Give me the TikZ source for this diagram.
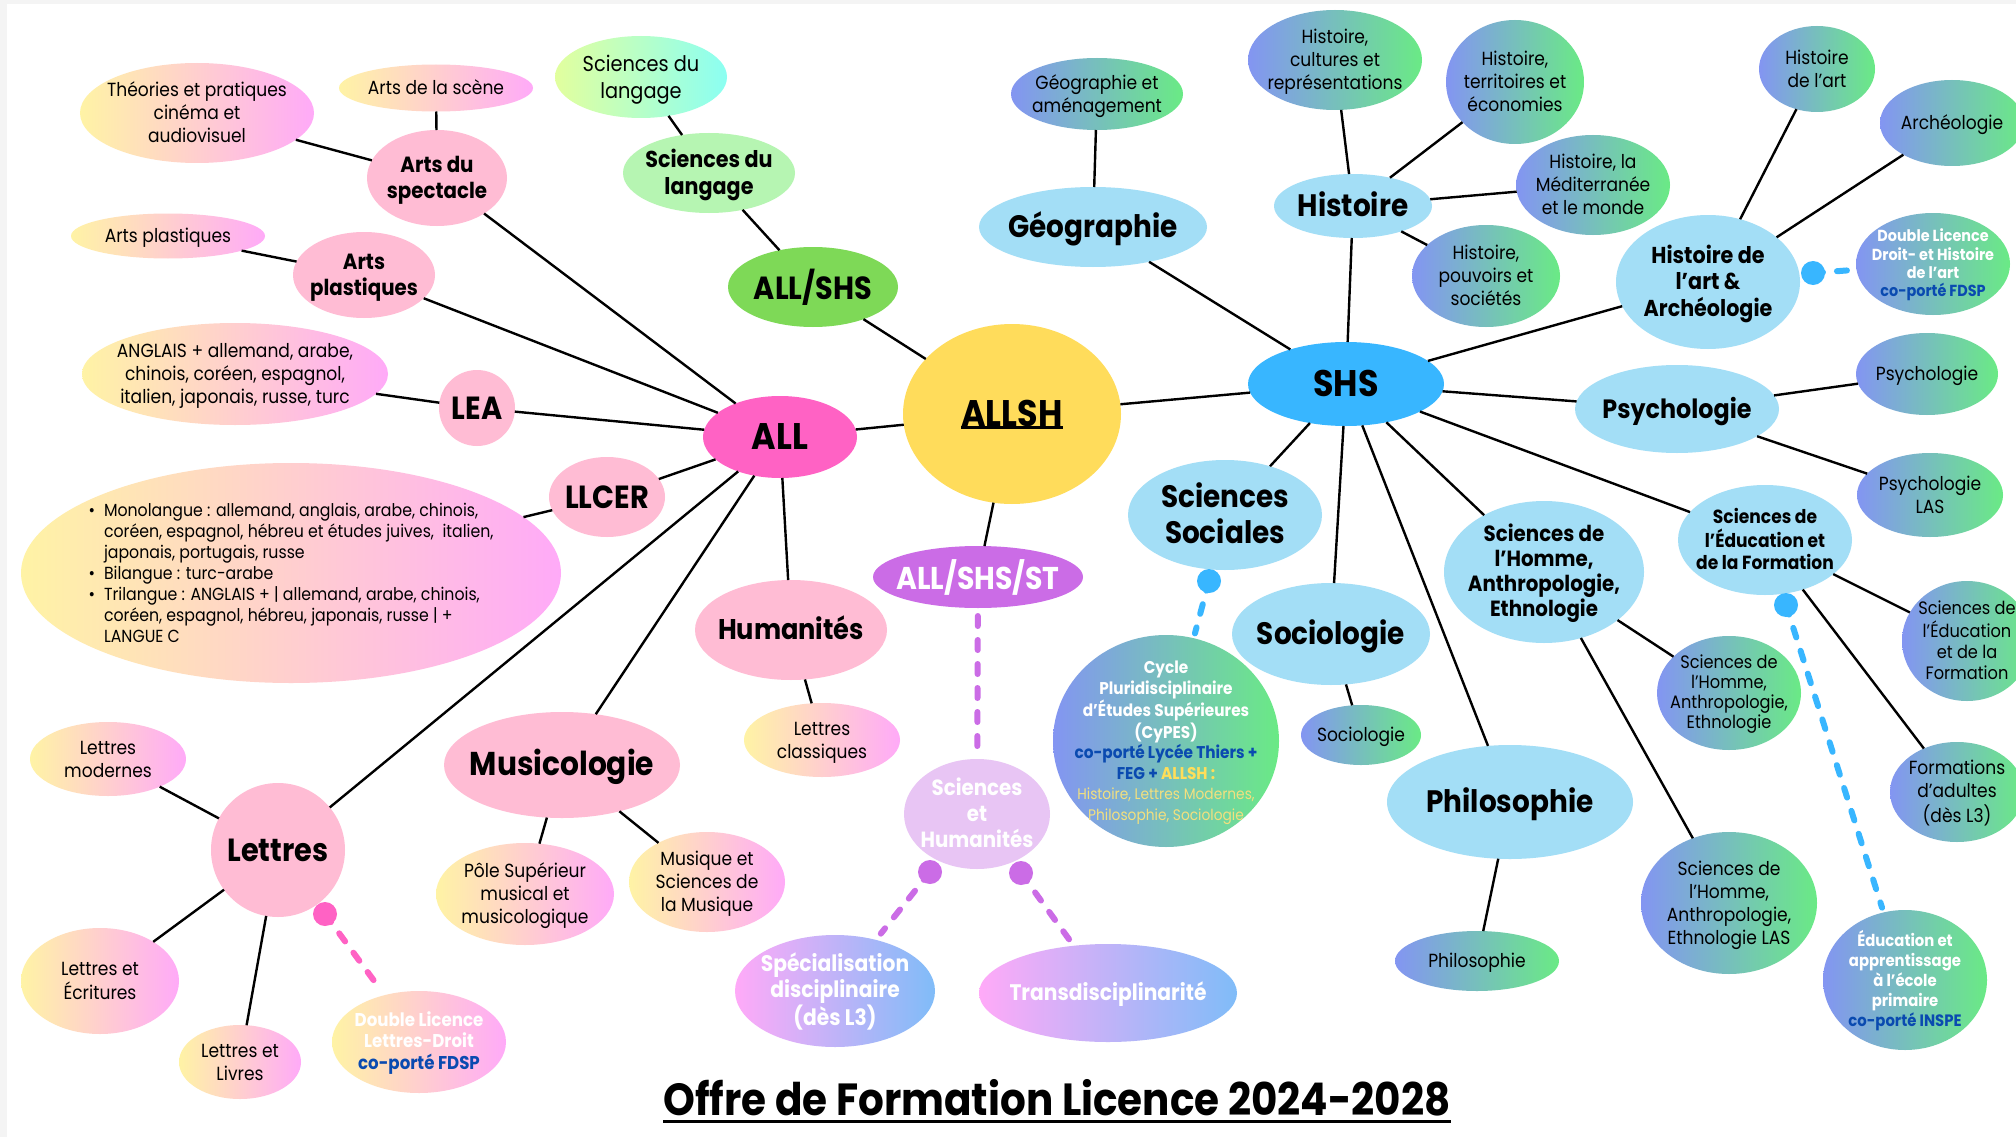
\documentclass[tikz,border=0pt]{standalone}
\usepackage{fontspec}
\setmainfont{Poppins}[FakeStretch=0.9]
\usetikzlibrary{shapes.geometric}

\definecolor{frameGray}{HTML}{F4F4F4}
\definecolor{pinkSoft}{HTML}{FFBCD4}
\definecolor{allPink}{HTML}{FF62C4}
\definecolor{allshYellow}{HTML}{FFDC5B}
\definecolor{allshsGreen}{HTML}{7ED957}
\definecolor{sdlGreen}{HTML}{B6F5B2}
\definecolor{shsBlue}{HTML}{38B6FF}
\definecolor{skyBlue}{HTML}{A3DEF6}
\definecolor{stPurple}{HTML}{CB6CE6}
\definecolor{shLilac}{HTML}{E8C5F4}
\definecolor{leafYellow}{HTML}{FFF3A5}
\definecolor{leafPink}{HTML}{FFAAF8}
\definecolor{leafBlue}{HTML}{8395F2}
\definecolor{leafGreen}{HTML}{6AEA85}
\definecolor{sdlLime}{HTML}{E2FF9E}
\definecolor{sdlCyan}{HTML}{8BFFF2}
\definecolor{specBlue}{HTML}{80BCF8}
\definecolor{coBlue}{HTML}{0A4AB0}
\definecolor{goldText}{HTML}{FFDE59}
\definecolor{paleGold}{HTML}{F3E07E}

\newcommand{\fs}[2]{\fontsize{#1}{#2}\selectfont}
% text block of zero size, centred on the node
\newcommand{\bx}[2][c]{\smash{\makebox[0pt]{\raisebox{\dimexpr-.5\height+.07em\relax}{\begin{tabular}[b]{@{}#1@{}}#2\end{tabular}}}}}
\newsavebox{\ulbox}
\newcommand{\ulbar}[2][4pt]{\sbox\ulbox{#2}\rlap{\rule[-#1]{\wd\ulbox}{3pt}}\usebox\ulbox}

\tikzset{
  bubble/.style={ellipse, inner sep=0pt, outer sep=0pt},
  sz/.style 2 args={minimum width=#1pt, minimum height=#2pt},
  pinkbig/.style={bubble, fill=pinkSoft, font=\bfseries\fs{32}{38}},
  pinkleaf/.style={bubble, left color=leafYellow, right color=leafPink, font=\fs{19}{23}},
  skybig/.style={bubble, fill=skyBlue, font=\bfseries\fs{31}{37}},
  greenleaf/.style={bubble, left color=leafBlue, right color=leafGreen, font=\fs{19}{23}},
  lilacleaf/.style={bubble, left color=leafPink, right color=specBlue, text=white, font=\bfseries\fs{22.5}{26}},
  link/.style={line width=2.4pt},
  dashlink/.style={line width=6pt, dash pattern=on 10pt off 14pt, line cap=round},
  pinkdash/.style={dashlink, draw=allPink},
  bluedash/.style={dashlink, draw=shsBlue},
  purpledash/.style={dashlink, draw=stPurple}
}

\begin{document}
\begin{tikzpicture}[x=1pt, y=-1pt]
  \useasboundingbox (0,0) rectangle (2016,1137);
  \fill[frameGray] (0,0) rectangle (2016,1137);
  \fill[white] (7,4) rectangle (2016,1137);

  % centre
  \node[bubble, sz={218}{180}, fill=allshYellow, font=\bfseries\fs{37}{42}] (allsh) at (1012,414) {\bx{\ulbar[3pt]{ALLSH}}};
  \node[bubble, sz={170}{80}, fill=allshsGreen, font=\bfseries\fs{32}{38}] (allshs) at (813,287) {\bx{ALL/SHS}};
  \node[bubble, sz={172}{80}, fill=sdlGreen, font=\bfseries\fs{23}{27}] (sdlb) at (709,173) {\bx{Sciences du\\langage}};
  \node[bubble, sz={172}{82}, left color=sdlLime, right color=sdlCyan, font=\fs{21.5}{27}] (sdl) at (641,77) {\bx{Sciences du\\langage}};
  \node[bubble, sz={210}{62}, fill=stPurple, text=white, font=\bfseries\fs{31.5}{36}] (allshsst) at (978,577) {\bx{ALL/SHS/ST}};
  \node[bubble, sz={146}{110}, fill=shLilac, text=white, font=\bfseries\fs{22}{26}] (sh) at (977,814) {\bx{Sciences\\et\\Humanités}};
  \node[lilacleaf, sz={200}{112}] (spec) at (835,991) {\bx{Spécialisation\\disciplinaire\\(dès L3)}};
  \node[lilacleaf, sz={258}{98}] (trans) at (1108,993) {\bx{Transdisciplinarité}};

  % ALL
  \node[bubble, sz={154}{82}, fill=allPink, font=\bfseries\fs{37}{42}] (all) at (780,437) {\bx{ALL}};
  \node[pinkbig, sz={140}{96}, font=\bfseries\fs{22}{26}] (spect) at (437,178) {\bx{Arts du\\spectacle}};
  \node[pinkleaf, sz={194}{47}] (scene) at (436,88) {\bx{Arts de la scène}};
  \node[pinkleaf, sz={234}{100}] (theo) at (197,113) {\bx{Théories et pratiques\\cinéma et\\audiovisuel}};
  \node[pinkbig, sz={142}{86}, font=\bfseries\fs{22}{26}] (aplastb) at (364,275) {\bx{Arts\\plastiques}};
  \node[pinkleaf, sz={194}{45}] (aplast) at (168,236) {\bx{Arts plastiques}};
  \node[pinkbig, sz={76}{76}] (lea) at (477,408) {\bx{LEA}};
  \node[pinkleaf, sz={306}{102}] (anglais) at (235,374) {\bx{ANGLAIS + allemand, arabe,\\chinois, coréen, espagnol,\\italien, japonais, russe, turc}};
  \node[pinkbig, sz={116}{80}] (llcer) at (607,497) {\bx{LLCER}};
  \node[pinkleaf, sz={540}{220}, font=\fs{17.5}{21}] (llcerlist) at (291,573) {\bx[l@{\hspace{9pt}}l]{%
      \textbullet & Monolangue : allemand, anglais, arabe, chinois,\\
      & coréen, espagnol, hébreu et études juives,\ \ italien,\\
      & japonais, portugais, russe\\
      \textbullet & Bilangue : turc-arabe\\
      \textbullet & Trilangue : ANGLAIS + | allemand, arabe, chinois,\\
      & coréen, espagnol, hébreu, japonais, russe | +\\
      & LANGUE C}};
  \node[pinkbig, sz={192}{100}, font=\bfseries\fs{28.5}{34}] (hum) at (791,630) {\bx{Humanités}};
  \node[pinkleaf, sz={156}{74}] (lclass) at (822,740) {\bx{Lettres\\classiques}};
  \node[pinkbig, sz={236}{106}, font=\bfseries\fs{33}{38}] (musico) at (562,765) {\bx{Musicologie}};
  \node[pinkleaf, sz={178}{102}] (pole) at (525,894) {\bx{Pôle Supérieur\\musical et\\musicologique}};
  \node[pinkleaf, sz={156}{100}] (musique) at (707,882) {\bx{Musique et\\Sciences de\\la Musique}};
  \node[pinkbig, sz={134}{134}] (lettres) at (278,850) {\bx{Lettres}};
  \node[pinkleaf, sz={156}{74}] (lmod) at (108,759) {\bx{Lettres\\modernes}};
  \node[pinkleaf, sz={158}{106}] (lecr) at (100,981) {\bx{Lettres et\\Écritures}};
  \node[pinkleaf, sz={122}{74}] (llivres) at (240,1062) {\bx{Lettres et\\Livres}};
  \node[pinkleaf, sz={174}{102}, text=white, font=\bfseries\fs{18.5}{21}] (dbllettres) at (419,1042) {\bx{Double Licence\\Lettres-Droit\\\textcolor{coBlue}{co-porté FDSP}}};

  % SHS
  \node[bubble, sz={196}{84}, fill=shsBlue, font=\bfseries\fs{37}{42}] (shs) at (1346,384) {\bx{SHS}};
  \node[skybig, sz={228}{80}] (geo) at (1093,227) {\bx{Géographie}};
  \node[greenleaf, sz={172}{72}] (geoam) at (1097,94) {\bx{Géographie et\\aménagement}};
  \node[skybig, sz={158}{64}] (hist) at (1353,206) {\bx{Histoire}};
  \node[greenleaf, sz={174}{100}] (hcult) at (1335,60) {\bx{Histoire,\\cultures et\\représentations}};
  \node[greenleaf, sz={138}{124}] (hterr) at (1515,82) {\bx{Histoire,\\territoires et\\économies}};
  \node[greenleaf, sz={154}{100}] (hmed) at (1593,185) {\bx{Histoire, la\\Méditerranée\\et le monde}};
  \node[greenleaf, sz={148}{102}] (hpouv) at (1486,276) {\bx{Histoire,\\pouvoirs et\\sociétés}};
  \node[skybig, sz={184}{134}, font=\bfseries\fs{23}{26}] (hda) at (1708,282) {\bx{Histoire de\\l'art \&\\Archéologie}};
  \node[greenleaf, sz={116}{86}] (hdal) at (1817,69) {\bx{Histoire\\de l'art}};
  \node[greenleaf, sz={144}{86}] (archeo) at (1952,123) {\bx{Archéologie}};
  \node[greenleaf, sz={154}{102}, text=white, font=\bfseries\fs{16}{18}] (dblhda) at (1933,264) {\bx{Double Licence\\Droit- et Histoire\\de l'art\\\textcolor{coBlue}{co-porté FDSP}}};
  \node[skybig, sz={204}{88}, font=\bfseries\fs{26.5}{32}] (psyb) at (1677,409) {\bx{Psychologie}};
  \node[greenleaf, sz={142}{82}] (psy) at (1927,374) {\bx{Psychologie}};
  \node[greenleaf, sz={146}{84}] (psylas) at (1930,495) {\bx{Psychologie\\LAS}};
  \node[skybig, sz={174}{110}, font=\bfseries\fs{19}{21}] (sefb) at (1765,540) {\bx{Sciences de\\l’Éducation et\\de la Formation}};
  \node[greenleaf, sz={130}{120}, font=\fs{18}{21}] (sef) at (1967,641) {\bx{Sciences de\\l’Éducation\\et de la\\Formation}};
  \node[greenleaf, sz={134}{100}] (form) at (1957,792) {\bx{Formations\\d'adultes\\(dès L3)}};
  \node[greenleaf, sz={164}{140}, text=white, font=\bfseries\fs{16.5}{20}] (educ) at (1905,980) {\bx{Éducation et\\apprentissage\\à l’école\\primaire\\\textcolor{coBlue}{co-porté INSPE}}};
  \node[skybig, sz={200}{142}, font=\bfseries\fs{22}{25}] (shb) at (1544,572) {\bx{Sciences de\\l'Homme,\\Anthropologie,\\Ethnologie}};
  \node[greenleaf, sz={144}{114}, font=\fs{18}{20}] (shl) at (1729,693) {\bx{Sciences de\\l'Homme,\\Anthropologie,\\Ethnologie}};
  \node[greenleaf, sz={176}{142}] (shlas) at (1729,903) {\bx{Sciences de\\l'Homme,\\Anthropologie,\\Ethnologie LAS}};
  \node[skybig, sz={194}{110}, font=\bfseries\fs{31}{36}] (ss) at (1225,515) {\bx{Sciences\\Sociales}};
  \node[skybig, sz={198}{102}] (socio) at (1331,634) {\bx{Sociologie}};
  \node[greenleaf, sz={120}{60}] (sociol) at (1361,735) {\bx{Sociologie}};
  \node[skybig, sz={246}{114}] (philo) at (1510,802) {\bx{Philosophie}};
  \node[greenleaf, sz={164}{60}] (philol) at (1477,961) {\bx{Philosophie}};
  \node[greenleaf, sz={226}{212}, text=white, font=\fs{17}{20.5}] (cypes) at (1166,741) {\bx{\textbf{Cycle}\\\textbf{Pluridisciplinaire}\\\textbf{d’Études Supérieures}\\\textbf{(CyPES)}\\
      \textbf{\textcolor{coBlue}{co-porté Lycée Thiers +}}\\\textbf{\textcolor{coBlue}{FEG +} \textcolor{goldText}{ALLSH :}}\\
      \textcolor{paleGold}{\fs{15.3}{20.5}Histoire, Lettres Modernes,}\\\textcolor{paleGold}{\fs{15.3}{20.5}Philosophie, Sociologie}}};

  % title
  \node[inner sep=0pt, anchor=base, font=\bfseries\fs{45}{50}] (title) at (1057,1115) {\ulbar[8pt]{Offre de Formation Licence 2024-2028}};

  % links
  \draw[link] (allsh) -- (all);
  \draw[link] (allsh) -- (allshs);
  \draw[link] (allsh) -- (shs);
  \draw[link] (allsh) -- (allshsst);
  \draw[link] (allshs) -- (sdlb);
  \draw[link] (sdlb) -- (sdl);
  \foreach \n in {spect,aplastb,lea,llcer,lettres,musico,hum}
    \draw[link] (all) -- (\n);
  \draw[link] (spect) -- (scene);
  \draw[link] (spect) -- (theo);
  \draw[link] (aplastb) -- (aplast);
  \draw[link] (lea) -- (anglais);
  \draw[link] (llcer) -- (llcerlist);
  \draw[link] (hum) -- (lclass);
  \draw[link] (musico) -- (pole);
  \draw[link] (musico) -- (musique);
  \foreach \n in {lmod,lecr,llivres}
    \draw[link] (lettres) -- (\n);
  \foreach \n in {geo,hist,hda,psyb,sefb,shb,ss,socio,philo}
    \draw[link] (shs) -- (\n);
  \draw[link] (geo) -- (geoam);
  \foreach \n in {hcult,hterr,hmed,hpouv}
    \draw[link] (hist) -- (\n);
  \draw[link] (hda) -- (hdal);
  \draw[link] (hda) -- (archeo);
  \draw[link] (psyb) -- (psy);
  \draw[link] (psyb) -- (psylas);
  \draw[link] (sefb) -- (sef);
  \draw[link] (sefb) -- (form);
  \draw[link] (shb) -- (shl);
  \draw[link] (shb) -- (shlas);
  \draw[link] (socio) -- (sociol);
  \draw[link] (philo) -- (philol);

  % dashed links with dots
  \coordinate (ldot) at (325,914);
  \coordinate (hadot) at (1813,273);
  \coordinate (ssdot) at (1209,581);
  \coordinate (sefdot) at (1786,605);
  \coordinate (shdotl) at (930,872);
  \coordinate (shdotr) at (1021,873);
  \draw[purpledash, shorten <=8pt, shorten >=6pt] (allshsst) -- (sh);
  \draw[pinkdash, shorten >=5pt] (ldot) -- (dbllettres);
  \draw[bluedash, shorten >=3pt] (hadot) -- (dblhda);
  \draw[bluedash, shorten >=5pt] (ssdot) -- (cypes);
  \draw[bluedash, shorten >=5pt] (sefdot) -- (educ);
  \draw[purpledash, shorten >=8pt] (shdotl) -- (spec);
  \draw[purpledash, shorten >=8pt] (shdotr) -- (trans);
  \fill[allPink] (ldot) circle (12pt);
  \foreach \d in {hadot,ssdot,sefdot}
    \fill[shsBlue] (\d) circle (12pt);
  \foreach \d in {shdotl,shdotr}
    \fill[stPurple] (\d) circle (12pt);
\end{tikzpicture}
\end{document}
